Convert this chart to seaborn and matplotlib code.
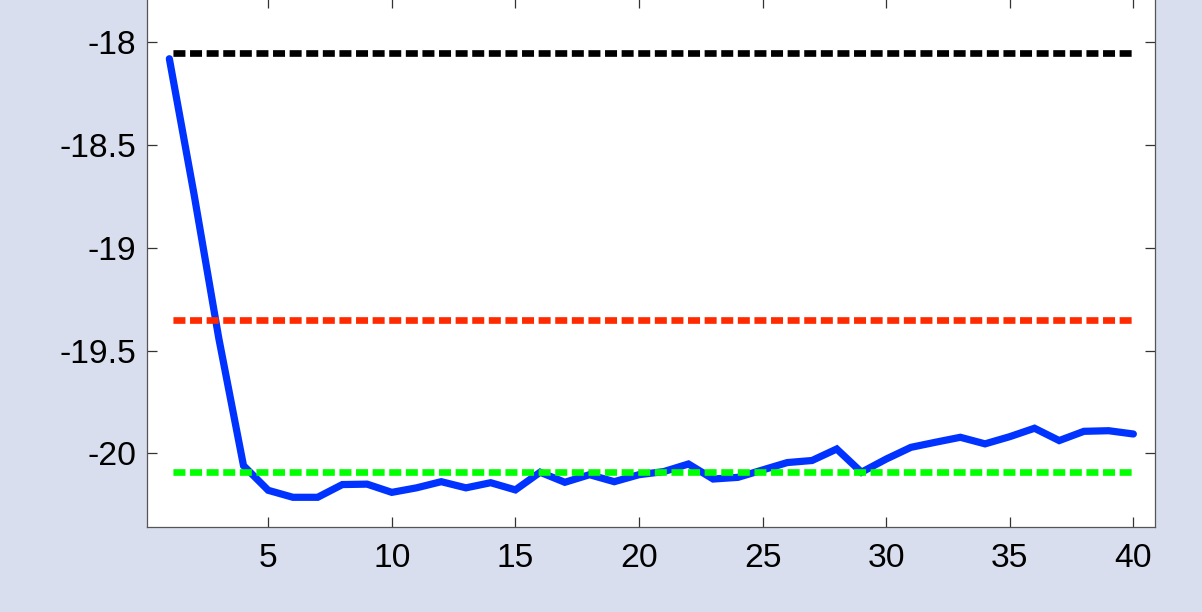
import numpy as np
import pandas as pd
import matplotlib
matplotlib.use("Agg")
import matplotlib.pyplot as plt
import seaborn as sns

# Objective value per iteration
iterations = list(range(1, 41))
objective = [
    -18.08, -18.74, -19.44, -20.06, -20.18, -20.214, -20.214, -20.152, -20.15, -20.19,
    -20.168, -20.138, -20.168, -20.143, -20.178, -20.092, -20.141, -20.104, -20.138, -20.104,
    -20.089, -20.052, -20.125, -20.117, -20.081, -20.045, -20.035, -19.979, -20.092, -20.028,
    -19.971, -19.946, -19.922, -19.954, -19.919, -19.878, -19.938, -19.893, -19.89, -19.906,
]

# Reference levels drawn as dashed lines
reference_levels = [-18.05, -19.35, -20.09]
reference_colors = ["#000000", "#FF2A00", "#00FF00"]

xtick_values = [5, 10, 15, 20, 25, 30, 35, 40]
ytick_values = [-20, -19.5, -19, -18.5, -18]
ytick_labels = ["-20", "-19.5", "-19", "-18.5", "-18"]

bg = "#D8DEEE"
sns.set_theme(style="white")
plt.rcParams["font.family"] = ["Liberation Sans", "DejaVu Sans"]

fig = plt.figure(figsize=(12.02, 6.12), dpi=100, facecolor=bg)
ax = fig.add_axes([0.1225, 0.1384, 0.8382, 0.8647])
ax.set_facecolor("white")

df = pd.DataFrame({"iteration": iterations, "objective": objective})
sns.lineplot(data=df, x="iteration", y="objective", ax=ax, color="#0033FF",
             linewidth=5.2, solid_joinstyle="miter", zorder=2)

for level, col in zip(reference_levels, reference_colors):
    ax.hlines(level, iterations[0], iterations[-1], colors=col, linewidth=4.8,
              linestyles=[(1.9, (1.8, 0.69))], zorder=3)

ax.set_xlim(0.106, 40.866)
ax.set_ylim(-20.36, -17.785)
ax.set_xticks(xtick_values)
ax.set_xticklabels([str(v) for v in xtick_values])
ax.set_yticks(ytick_values)
ax.set_yticklabels(ytick_labels)
ax.set_xlabel("")
ax.set_ylabel("")

ax.tick_params(axis="both", which="both", direction="in", length=7.2, width=0.9,
               color="#333333", labelsize=24.2, labelcolor="black",
               top=True, right=True, bottom=True, left=True)
ax.tick_params(axis="x", pad=11.5)
ax.tick_params(axis="y", pad=8)
for s in ax.spines.values():
    s.set_visible(True)
    s.set_color("#555555")
    s.set_linewidth(0.9)

fig.savefig("out.png", dpi=100, facecolor=bg)
